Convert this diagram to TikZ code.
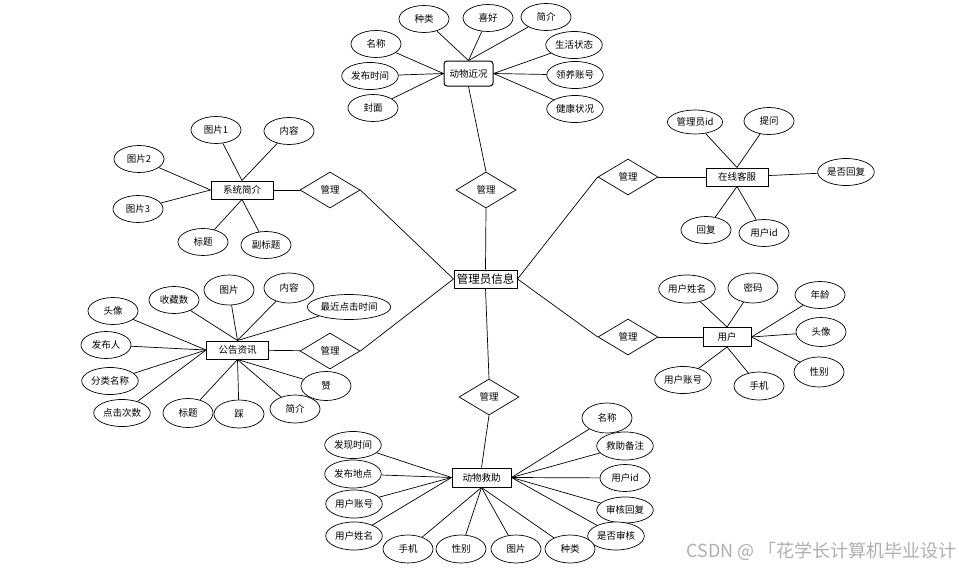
\documentclass[tikz,border=0pt]{standalone}
\usepackage{fontspec}
\usepackage{tikz}
\usetikzlibrary{shapes.geometric}
\newfontfamily\cjk{Noto Sans CJK SC}
\definecolor{wmgray}{RGB}{175,175,175}

\begin{document}
\begin{tikzpicture}[x=1pt, y=-1pt, line width=0.7pt,
  font=\cjk\fontsize{9.5}{10}\selectfont,
  attr/.style={draw, ellipse, fill=white, minimum width=50pt, minimum height=27pt, inner sep=1pt},
  entity/.style={draw, rectangle, fill=white, line width=1pt, minimum width=62pt, minimum height=18pt, inner sep=1pt},
  rel/.style={draw, diamond, fill=white, aspect=1.7, minimum width=60pt, minimum height=36pt, inner sep=0pt}]

\useasboundingbox (0,0) rectangle (959,570);

% Central entity and relations
\node[entity, minimum width=63pt, font=\cjk\fontsize{11.5}{12}\selectfont] (admin) at (485.5,279) {管理员信息};
\node[rel] (mTop) at (486,190) {管理};
\node[rel] (mUL) at (330,190) {管理};
\node[rel] (mUR) at (628,177) {管理};
\node[rel] (mLL) at (330,351) {管理};
\node[rel] (mLR) at (628,337) {管理};
\node[rel] (mBot) at (489,397) {管理};

% Animal status (top)
\node[entity, rounded corners=3pt, minimum width=49pt, minimum height=25pt] (status) at (468.5,73.5) {动物近况};
\node[attr] (stA) at (424,19) {种类};
\node[attr] (stB) at (488,18) {喜好};
\node[attr] (stC) at (546,17) {简介};
\node[attr] (stD) at (376,44) {名称};
\node[attr] (stE) at (370,76) {发布时间};
\node[attr] (stF) at (373,108) {封面};
\node[attr] (stG) at (574,45) {生活状态};
\node[attr] (stH) at (575,75) {领养账号};
\node[attr] (stI) at (575,109) {健康状况};

% System intro (upper left)
\node[entity] (intro) at (242,190) {系统简介};
\node[attr] (in1) at (216,130) {图片1};
\node[attr] (in2) at (289,131) {内容};
\node[attr] (in3) at (139,159) {图片2};
\node[attr] (in4) at (138,209) {图片3};
\node[attr] (in5) at (203,242) {标题};
\node[attr] (in6) at (266,245) {副标题};

% Online service (upper right)
\node[entity] (service) at (737,177) {在线客服};
\node[attr, minimum height=24pt] (sv1) at (695,122) {管理员id};
\node[attr] (sv2) at (769,121) {提问};
\node[attr] (sv3) at (846,172) {是否回复};
\node[attr] (sv4) at (706,230) {回复};
\node[attr] (sv5) at (764,233) {用户id};

% Notices (lower left)
\node[entity] (notice) at (237.5,350) {公告资讯};
\node[attr] (nt1) at (113,311) {头像};
\node[attr] (nt2) at (174,300) {收藏数};
\node[attr, minimum height=30pt] (nt3) at (229,290) {图片};
\node[attr, minimum height=30pt] (nt4) at (289,288) {内容};
\node[attr, minimum height=25pt] (nt5) at (349,307) {最近点击时间};
\node[attr] (nt6) at (106,345) {发布人};
\node[attr] (nt7) at (110,381) {分类名称};
\node[attr] (nt8) at (122,413) {点击次数};
\node[attr, minimum height=29pt] (nt9) at (188,413) {标题};
\node[attr, minimum height=28pt] (nt10) at (239,414) {踩};
\node[attr, minimum height=28pt] (nt11) at (295,409) {简介};
\node[attr, minimum height=29pt] (nt12) at (326,386) {赞};

% Users (lower right)
\node[entity, minimum width=48pt, minimum height=19pt] (user) at (727,337) {用户};
\node[attr, minimum height=28pt] (us1) at (687,289) {用户姓名};
\node[attr, minimum height=30pt] (us2) at (753,288) {密码};
\node[attr] (us3) at (820,295) {年龄};
\node[attr, minimum height=29pt] (us4) at (821,332) {头像};
\node[attr, minimum height=30pt] (us5) at (819,372) {性别};
\node[attr] (us6) at (683,380) {用户账号};
\node[attr, minimum height=28pt] (us7) at (759,386) {手机};

% Animal rescue (bottom)
\node[entity, minimum width=59pt, minimum height=19pt] (rescue) at (481.5,477.5) {动物救助};
\node[attr, minimum height=30pt] (rs1) at (607,418) {名称};
\node[attr, minimum height=28pt] (rs2) at (625,446) {救助备注};
\node[attr] (rs3) at (625,478) {用户id};
\node[attr, minimum height=26pt] (rs4) at (625,510) {审核回复};
\node[attr, minimum height=28pt] (rs5) at (616,536) {是否审核};
\node[attr, minimum height=28pt] (rs6) at (570,549) {种类};
\node[attr, minimum height=28pt] (rs7) at (516,549) {图片};
\node[attr, minimum height=28pt] (rs8) at (461,549) {性别};
\node[attr, minimum height=28pt] (rs9) at (408,549) {手机};
\node[attr] (rs10) at (353,445) {发现时间};
\node[attr, minimum height=28pt] (rs11) at (353,474) {发布地点};
\node[attr, minimum height=28pt] (rs12) at (354,504) {用户账号};
\node[attr, minimum height=28pt] (rs13) at (354,536) {用户姓名};

% Relation links
\draw (admin.north) -- (mTop.south);
\draw (mTop.north) -- (status.south);
\draw (mUL.east) -- (admin.west);
\draw (intro) -- (mUL);
\draw (mUR.west) -- (admin.east);
\draw (mUR) -- (service);
\draw (mLL.east) -- (admin.west);
\draw (notice) -- (mLL);
\draw (mLR.west) -- (admin.east);
\draw (mLR) -- (user);
\draw (admin.south) -- (mBot.north);
\draw (mBot.south) -- (rescue.north);

% Attribute links
\foreach \a in {stA,stB,stC} \draw (status.north) -- (\a);
\foreach \a in {stD,stE,stF} \draw (status.west) -- (\a);
\foreach \a in {stG,stH,stI} \draw (status.east) -- (\a);

\foreach \a in {in1,in2} \draw (intro.north) -- (\a);
\foreach \a in {in3,in4} \draw (intro.west) -- (\a);
\foreach \a in {in5,in6} \draw (intro.south) -- (\a);

\foreach \a in {sv1,sv2} \draw (service.north) -- (\a);
\draw (service) -- (sv3);
\foreach \a in {sv4,sv5} \draw (service.south) -- (\a);

\foreach \a in {nt1,nt6,nt7,nt8} \draw (notice.west) -- (\a);
\foreach \a in {nt2,nt3,nt4,nt5} \draw (notice.north) -- (\a);
\foreach \a in {nt9,nt10,nt11,nt12} \draw (notice.south) -- (\a);

\foreach \a in {us1,us2} \draw (user.north) -- (\a);
\foreach \a in {us3,us4,us5} \draw (user.east) -- (\a);
\foreach \a in {us6,us7} \draw (user.south) -- (\a);

\foreach \a in {rs10,rs11,rs12,rs13} \draw (rescue.west) -- (\a);
\foreach \a in {rs1,rs2,rs3,rs4,rs5} \draw (rescue.east) -- (\a);
\foreach \a in {rs6,rs7,rs8,rs9} \draw (rescue.south) -- (\a);

% Watermark
\node[wmgray, anchor=east, inner sep=0pt, font=\cjk\fontsize{18}{20}\selectfont] (mark) at (957,551) {CSDN @ 「花学长计算机毕业设计};

\end{tikzpicture}
\end{document}
